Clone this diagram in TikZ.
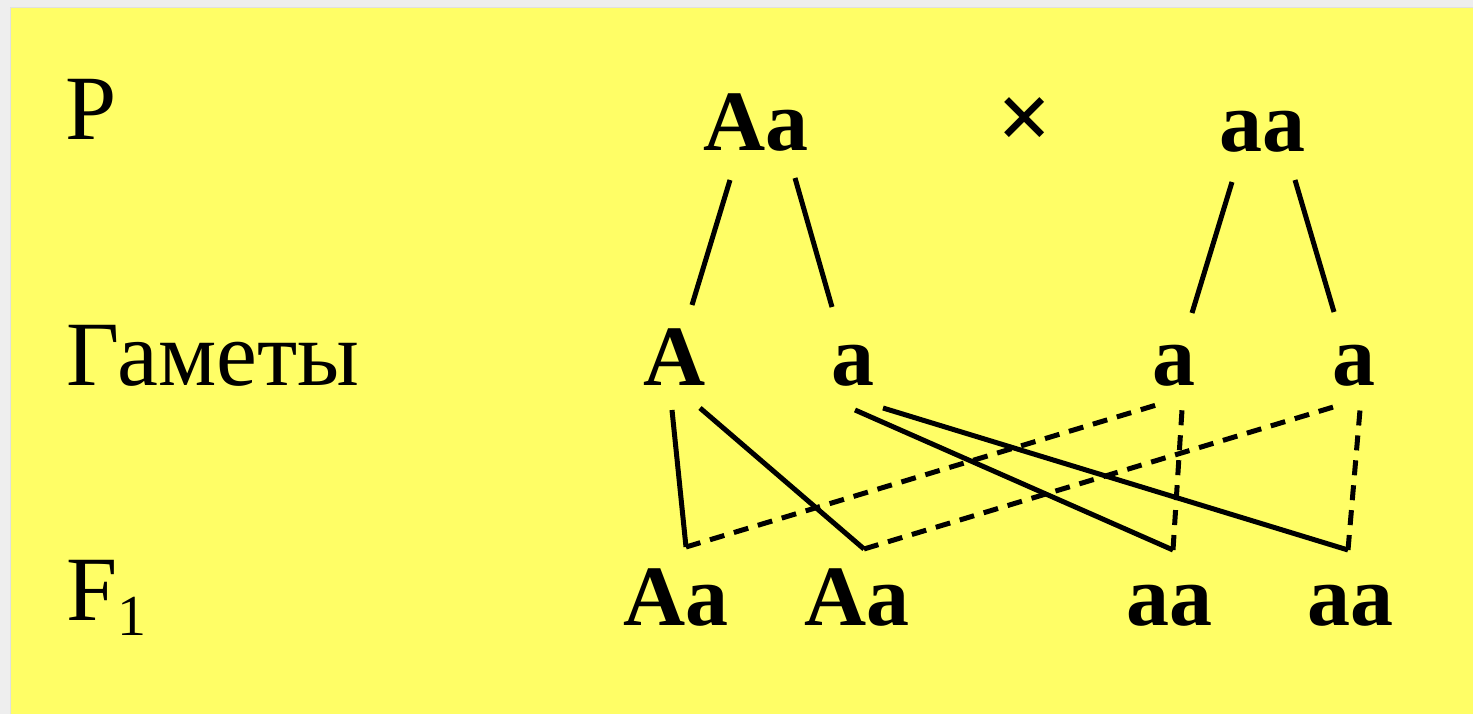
\documentclass[tikz,border=0pt]{standalone}
\usepackage{fontspec}
\setmainfont{Liberation Serif}
\usepackage{tikz}
\usetikzlibrary{calc}

\definecolor{paper}{HTML}{FFFE66}
\definecolor{frame}{HTML}{EEEEEE}

\begin{document}
\begin{tikzpicture}[x=1pt,y=-1pt,line width=5pt,
  allele/.style={inner sep=0pt,anchor=base,font=\fontsize{86}{90}\selectfont\bfseries},
  rowlabel/.style={inner sep=0pt,anchor=base west,font=\fontsize{92}{96}\selectfont},
  fromfather/.style={dash pattern=on 15pt off 10pt}]
\useasboundingbox (0,0) rectangle (1473,714);
\fill[frame] (0,0) rectangle (1473,714);
\fill[paper] (10,8) rectangle (1473,714);
\draw[line width=1pt,black!12] (10,714) -- (10,8) -- (1473,8);
% row labels
\node[rowlabel] (lblP) at (63,140) {P};
\node[rowlabel] (lblG) at (64,385) {Гаметы};
\node[rowlabel] (lblF) at (64,620) {F\raisebox{-15pt}{\fontsize{58}{60}\selectfont 1}};
% parents
\node[allele] (pAa) at (756,151) {Aa};
\node[inner sep=0pt,font=\fontsize{96}{96}\selectfont\bfseries] (cross) at (1025,124) {×};
\node[allele] (paa) at (1262,152) {aa};
% gametes
\node[allele] (gA) at (675,385) {A};
\node[allele] (ga) at (853,385) {a};
\node[allele] (ga3) at (1174,385) {a};
\node[allele] (ga4) at (1354,385) {a};
% offspring
\node[allele] (fAa1) at (676,625) {Aa};
\node[allele] (fAa2) at (857,625) {Aa};
\node[allele] (faa3) at (1169,625) {aa};
\node[allele] (faa4) at (1350,625) {aa};
\coordinate (k1) at ($(fAa1.base)+(10,-78)$);
\coordinate (k2) at ($(fAa2.base)+(7,-76)$);
\coordinate (k3) at ($(faa3.base)+(4,-75)$);
\coordinate (k4) at ($(faa4.base)+(-2,-75)$);
% parents to gametes
\draw ($(pAa.base)+(-26,29)$) -- ($(gA.base)+(17,-80)$);
\draw ($(pAa.base)+(39,27)$) -- ($(ga.base)+(-21,-78)$);
\draw ($(paa.base)+(-30,30)$) -- ($(ga3.base)+(18,-72)$);
\draw ($(paa.base)+(33,28)$) -- ($(ga4.base)+(-20,-73)$);
% gametes to F1
\draw ($(gA.base)+(-3,25)$) -- (k1);
\draw ($(gA.base)+(25,23)$) -- (k2);
\draw ($(ga.base)+(2,25)$) -- (k3);
\draw ($(ga.base)+(30,23)$) -- (k4);
\draw[fromfather] (k1) -- ($(ga3.base)+(-11,18)$);
\draw[fromfather] (k2) -- ($(ga4.base)+(-14,20)$);
\draw[fromfather] (k3) -- ($(ga3.base)+(8,25)$);
\draw[fromfather] (k4) -- ($(ga4.base)+(6,25)$);
\end{tikzpicture}
\end{document}
